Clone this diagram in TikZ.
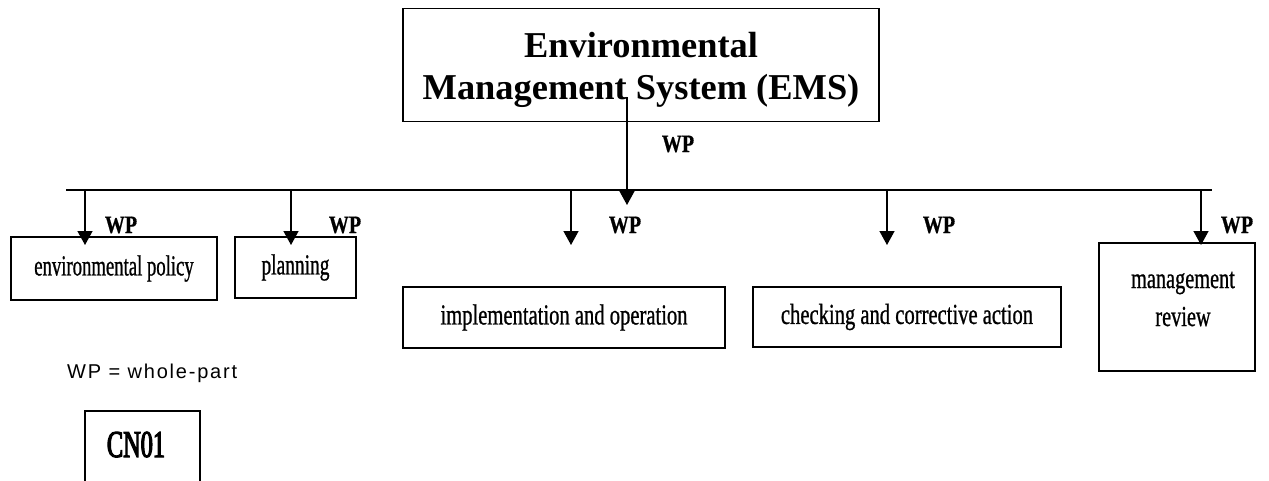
\documentclass[tikz,border=0pt]{standalone}
\usepackage{fontspec}
\setmainfont{Liberation Serif}
\newfontfamily\condf[FakeStretch=0.70,FakeBold=0.8]{Liberation Serif}
\newfontfamily\condp[FakeStretch=0.645,FakeBold=0.8]{Liberation Serif}
\newfontfamily\condq[FakeStretch=0.67,FakeBold=0.8]{Liberation Serif}
\newfontfamily\condr[FakeStretch=0.71,FakeBold=0.8]{Liberation Serif}
\newfontfamily\wpf[FakeStretch=0.8,FakeBold=0.6]{Liberation Serif}
\newfontfamily\cnf[FakeStretch=0.64,FakeBold=3]{Liberation Serif}
\newfontfamily\legf[LetterSpace=9]{Liberation Sans}
\usetikzlibrary{arrows.meta}
\begin{document}
\begin{tikzpicture}[x=1pt,y=-1pt,
  box/.style={draw,line width=1.5pt,inner sep=0pt},
  lbl/.style={font=\condf\fontsize{29}{38}\selectfont,inner sep=0pt,align=center},
  wp/.style={font=\wpf\bfseries\fontsize{25}{30}\selectfont,inner sep=0pt,anchor=base},
  conn/.style={line width=1.4pt,-{Triangle[width=15pt,length=14pt]}},
  bus/.style={line width=1.4pt}]
\useasboundingbox (0,0) rectangle (1269,480);
% top box
\node[box,minimum width=476pt,minimum height=113pt] (ems) at (641,65) {};
\node[align=center,inner sep=0pt,
  font=\bfseries\fontsize{36.4}{42}\selectfont] (emstext) at (641,70)
  {Environmental\\Management System (EMS)};
\coordinate (emsout) at (627,97);
% bus
\coordinate (busl) at (66,190);
\coordinate (busr) at (1212,190);
\draw[bus] (busl) -- (busr);
\coordinate (c0) at (627,205);
\draw[conn] (emsout) -- (c0);
\node[wp] (wp0) at (678,152) {WP};
% part boxes
\node[box,minimum width=206pt,minimum height=63pt,lbl,font=\condp\fontsize{29}{38}\selectfont] (pol) at (114,268.5) {environmental policy};
\node[box,minimum width=121pt,minimum height=61pt,lbl,font=\condq\fontsize{29}{38}\selectfont] (pla) at (295.5,267.5) {planning};
\node[box,minimum width=322pt,minimum height=61pt,lbl,font=\condr\fontsize{29}{38}\selectfont] (imp) at (564,317.5) {implementation and operation};
\node[box,minimum width=308pt,minimum height=60pt,lbl,font=\condr\fontsize{29}{38}\selectfont] (chk) at (907,317) {checking and corrective action};
\node[box,minimum width=156pt,minimum height=128pt] (revbox) at (1177,307) {};
\node[lbl] (rev) at (1183,299) {management\\review};
% arrows
\coordinate (a1) at (85,190);   \coordinate (t1) at (85,245);
\coordinate (a2) at (291,190);  \coordinate (t2) at (291,245);
\coordinate (a3) at (571,190);  \coordinate (t3) at (571,245);
\coordinate (a4) at (887,190);  \coordinate (t4) at (887,245);
\coordinate (a5) at (1201,190); \coordinate (t5) at (1201,245);
\draw[conn] (a1) -- (t1);
\draw[conn] (a2) -- (t2);
\draw[conn] (a3) -- (t3);
\draw[conn] (a4) -- (t4);
\draw[conn] (a5) -- (t5);
\node[wp] (wp1) at (121,233) {WP};
\node[wp] (wp2) at (345,233) {WP};
\node[wp] (wp3) at (625,233) {WP};
\node[wp] (wp4) at (939,233) {WP};
\node[wp] (wp5) at (1237,233) {WP};
% legend
\node[font=\legf\fontsize{20}{22}\selectfont,anchor=base west,inner sep=0pt] (leg) at (67,378) {WP = whole-part};
\node[box,minimum width=115pt,minimum height=90pt] (cnbox) at (142.5,456) {};
\node[font=\cnf\fontsize{38}{40}\selectfont,inner sep=0pt,anchor=base] (cn) at (136,457) {CN01};
\end{tikzpicture}
\end{document}
